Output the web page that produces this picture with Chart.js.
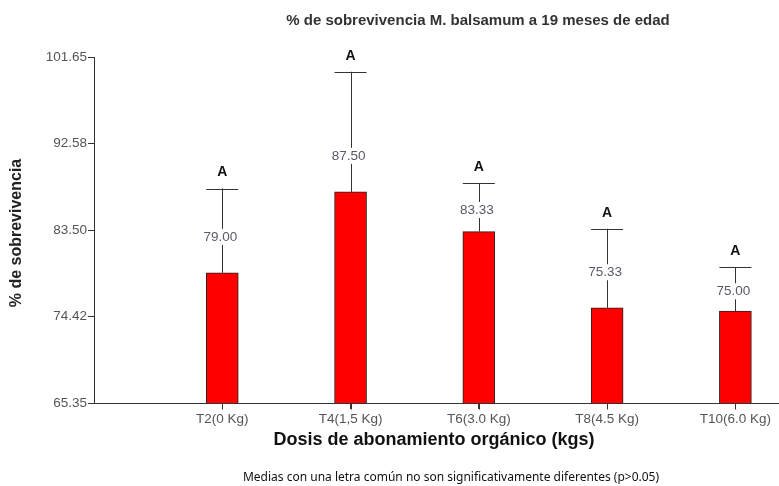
<!DOCTYPE html>
<html>
<head>
<meta charset="utf-8">
<script src="https://cdn.jsdelivr.net/npm/chart.js@4"></script>
<style>
  html, body { margin: 0; padding: 0; background: #fff; }
  #wrap { width: 779px; height: 486px; position: relative; }
</style>
</head>
<body>
<div id="wrap"><canvas id="chart" width="779" height="486"></canvas></div>
<script>
const categories = ['T2(0 Kg)', 'T4(1,5 Kg)', 'T6(3.0 Kg)', 'T8(4.5 Kg)', 'T10(6.0 Kg)'];
const survival = [79.00, 87.50, 83.33, 75.33, 75.00];
const errorUp = [8.85, 12.6, 5.05, 8.3, 4.6];
const letters = ['A', 'A', 'A', 'A', 'A'];
const yTicks = [65.35, 74.42, 83.50, 92.58, 101.65];

const axisColor = '#333';
const tickColor = '#555';

// whiskers, value labels, letters and the free texts
const decor = {
  id: 'decor',
  afterDatasetsDraw(chart) {
    const ctx = chart.ctx;
    const xs = chart.scales.x, ys = chart.scales.y;
    const base = Math.round(ys.getPixelForValue(yTicks[0])) + 0.5;
    ctx.save();
    survival.forEach((v, i) => {
      const x = xs.getPixelForValue(i + 1);
      const yBar = ys.getPixelForValue(v);
      const yCap = ys.getPixelForValue(v + errorUp[i]);
      ctx.strokeStyle = axisColor;
      ctx.lineWidth = 1;
      ctx.beginPath();
      ctx.moveTo(Math.round(x) + 0.5, yBar);
      ctx.lineTo(Math.round(x) + 0.5, yCap);
      ctx.moveTo(x - 16, Math.round(yCap) + 0.5);
      ctx.lineTo(x + 16, Math.round(yCap) + 0.5);
      // category tick below the axis
      ctx.moveTo(Math.round(x) + 0.5, base);
      ctx.lineTo(Math.round(x) + 0.5, base + 6);
      ctx.stroke();

      // value label sits on the whisker
      const half = (yBar - yCap) / 2;
      const ly = yBar - Math.min(36, half * 0.9);
      ctx.font = '13.5px "Liberation Sans", Arial, sans-serif';
      const w = ctx.measureText(v.toFixed(2)).width;
      ctx.fillStyle = '#fff';
      ctx.fillRect(x - w / 2 - 3, ly - 8, w + 2, 16);
      ctx.fillStyle = '#5a5a66';
      ctx.textAlign = 'center';
      ctx.textBaseline = 'middle';
      ctx.fillText(v.toFixed(2), x - 2, ly);

      ctx.font = 'bold 14px "Liberation Sans", Arial, sans-serif';
      ctx.fillStyle = '#111';
      ctx.fillText(letters[i], x, yCap - 16);
    });

    ctx.textAlign = 'center';
    ctx.textBaseline = 'middle';
    ctx.fillStyle = '#333';
    ctx.font = 'bold 15px "Liberation Sans", Arial, sans-serif';
    ctx.fillText('% de sobrevivencia M. balsamum a 19 meses de edad', 478, 21);

    ctx.fillStyle = '#111';
    ctx.font = 'bold 18px "Liberation Sans", Arial, sans-serif';
    ctx.fillText('Dosis de abonamiento orgánico (kgs)', 434, 440);

    ctx.font = '12px "Noto Sans", sans-serif';
    ctx.fillText('Medias con una letra común no son significativamente diferentes (p>0.05)', 451, 478);

    ctx.translate(17, 233);
    ctx.rotate(-Math.PI / 2);
    ctx.fillStyle = '#222';
    ctx.font = 'bold 16px "Liberation Sans", Arial, sans-serif';
    ctx.fillText('% de sobrevivencia', 0, 0);
    ctx.restore();
  }
};

new Chart(document.getElementById('chart'), {
  type: 'bar',
  data: {
    datasets: [{
      data: survival.map((v, i) => ({ x: i + 1, y: v })),
      backgroundColor: '#ff0000',
      borderColor: '#222',
      borderWidth: 1,
      borderSkipped: 'bottom',
      barThickness: 32
    }]
  },
  options: {
    responsive: false,
    animation: false,
    events: [],
    layout: { padding: { top: 57, left: 0, right: 0, bottom: 0 } },
    plugins: { legend: { display: false }, tooltip: { enabled: false } },
    scales: {
      x: {
        type: 'linear',
        min: 0,
        max: 5.34,
        offset: false,
        afterBuildTicks: axis => { axis.ticks = categories.map((c, i) => ({ value: i + 1 })); },
        afterFit: axis => { axis.height = 83; },
        grid: { display: true, offset: false, drawOnChartArea: false, drawTicks: true, tickLength: 6, color: axisColor },
        border: { display: true, color: axisColor, width: 1 },
        ticks: {
          color: tickColor,
          font: { family: '"Liberation Sans", Arial, sans-serif', size: 13.5 },
          padding: 2,
          maxRotation: 0,
          autoSkip: false,
          callback: v => categories[Math.round(v) - 1]
        }
      },
      y: {
        min: yTicks[0],
        max: yTicks[yTicks.length - 1],
        afterBuildTicks: axis => { axis.ticks = yTicks.map(v => ({ value: v })); },
        afterFit: axis => { axis.width = 94; },
        grid: { display: true, drawOnChartArea: false, drawTicks: true, tickLength: 6, color: axisColor },
        border: { display: true, color: axisColor, width: 1 },
        ticks: {
          color: tickColor,
          font: { family: '"Liberation Sans", Arial, sans-serif', size: 13.5 },
          padding: 1,
          callback: v => Number(v).toFixed(2)
        }
      }
    }
  },
  plugins: [decor]
});
</script>
</body>
</html>
